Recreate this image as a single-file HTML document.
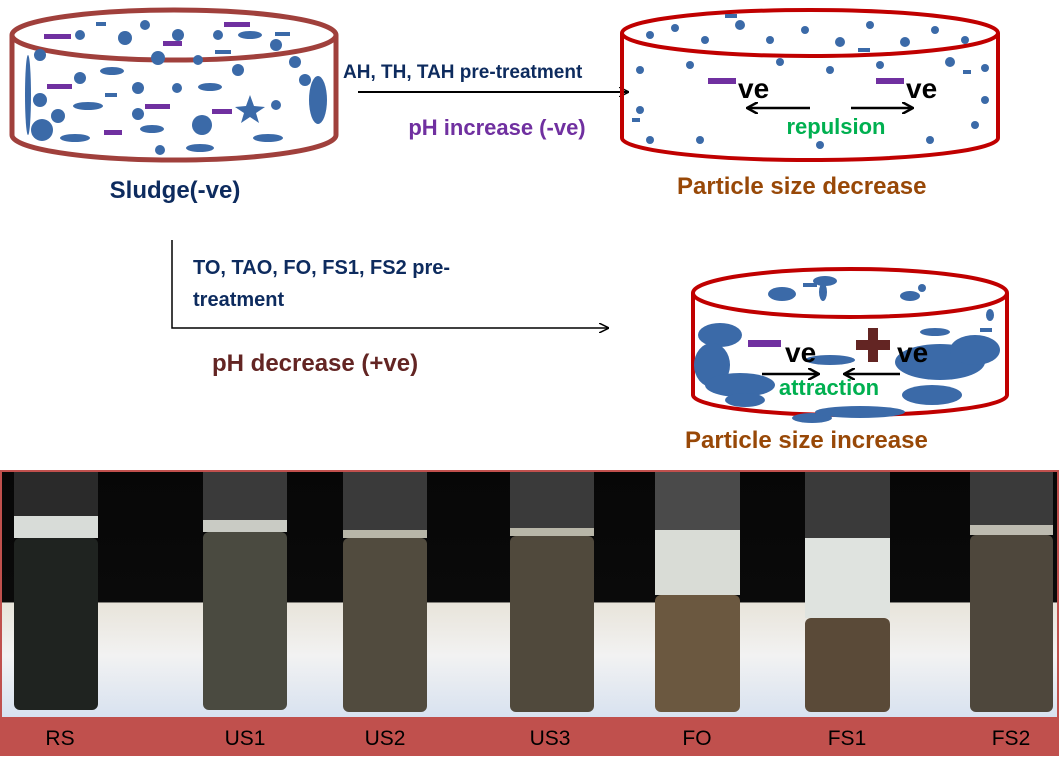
<!DOCTYPE html>
<html><head><meta charset="utf-8"><style>
body{margin:0;background:#fff;width:1059px;height:756px;overflow:hidden}
svg text{font-family:"Liberation Sans",Arial,sans-serif;font-weight:bold}
svg text.n{font-weight:normal}
</style></head><body>
<svg width="1059" height="756" viewBox="0 0 1059 756" xmlns="http://www.w3.org/2000/svg">
<defs>
<marker id="ah" markerWidth="10" markerHeight="10" refX="9" refY="5" orient="auto" markerUnits="userSpaceOnUse"><path d="M0,0 L10,5 L0,10" fill="none" stroke="#000" stroke-width="1.5"/></marker>
<marker id="ah2" markerWidth="12" markerHeight="12" refX="10" refY="6" orient="auto" markerUnits="userSpaceOnUse"><path d="M0,0 L11,6 L0,12" fill="none" stroke="#000" stroke-width="2.5"/></marker>
<linearGradient id="bg" x1="0" y1="0" x2="0" y2="1">
<stop offset="0" stop-color="#070707"/><stop offset="0.53" stop-color="#0a0a0a"/><stop offset="0.535" stop-color="#e8e4da"/><stop offset="0.75" stop-color="#f2f2f2"/><stop offset="1" stop-color="#d8e2f0"/></linearGradient>
</defs>
<!-- left cylinder -->
<g fill="none" stroke="#a0403c" stroke-width="5">
<ellipse cx="174" cy="35" rx="162" ry="25"/>
<path d="M12,35 V135 A162,25 0 0 0 336,135 V35"/>
</g>
<g fill="#3b6aa8">
<circle cx="80" cy="35" r="5"/><circle cx="145" cy="25" r="5"/><circle cx="178" cy="35" r="6"/><circle cx="218" cy="35" r="5"/><circle cx="276" cy="45" r="6"/><circle cx="40" cy="55" r="6"/><circle cx="125" cy="38" r="7"/><circle cx="158" cy="58" r="7"/><circle cx="198" cy="60" r="5"/><circle cx="238" cy="70" r="6"/><circle cx="295" cy="62" r="6"/><circle cx="80" cy="78" r="6"/><circle cx="138" cy="88" r="6"/><circle cx="177" cy="88" r="5"/><circle cx="305" cy="80" r="6"/><circle cx="138" cy="114" r="6"/><circle cx="276" cy="105" r="5"/><circle cx="202" cy="125" r="10"/><circle cx="160" cy="150" r="5"/><circle cx="40" cy="100" r="7"/><circle cx="58" cy="116" r="7"/><circle cx="42" cy="130" r="11"/>
<ellipse cx="112" cy="71" rx="12" ry="4"/><ellipse cx="210" cy="87" rx="12" ry="4"/><ellipse cx="88" cy="106" rx="15" ry="4"/><ellipse cx="152" cy="129" rx="12" ry="4"/><ellipse cx="75" cy="138" rx="15" ry="4"/><ellipse cx="200" cy="148" rx="14" ry="4"/><ellipse cx="268" cy="138" rx="15" ry="4"/><ellipse cx="250" cy="35" rx="12" ry="4"/><ellipse cx="318" cy="100" rx="9" ry="24"/><ellipse cx="28" cy="95" rx="3" ry="40"/>
<polygon points="250,95 254,106 265,107 256,113 259,123 250,117 241,123 244,113 235,107 246,106"/>
</g>
<g fill="#3b6aa8"><rect x="96" y="22" width="10" height="4"/><rect x="275" y="32" width="15" height="4"/><rect x="215" y="50" width="16" height="4"/><rect x="105" y="93" width="12" height="4"/></g>
<g fill="#7030a0"><rect x="44" y="34" width="27" height="5"/><rect x="224" y="22" width="26" height="5"/><rect x="163" y="41" width="19" height="5"/><rect x="47" y="84" width="25" height="5"/><rect x="145" y="104" width="25" height="5"/><rect x="212" y="109" width="20" height="5"/><rect x="104" y="130" width="18" height="5"/></g>
<text x="175" y="198" font-size="24" fill="#0d2b5e" text-anchor="middle">Sludge(-ve)</text>

<text x="343" y="78" font-size="19" fill="#0d2b5e">AH, TH, TAH pre-treatment</text>
<line x1="358" y1="92" x2="628" y2="92" stroke="#000" stroke-width="2" marker-end="url(#ah)"/>
<text x="497" y="135" font-size="22" fill="#7030a0" text-anchor="middle">pH increase (-ve)</text>

<g fill="none" stroke="#c00000" stroke-width="4">
<ellipse cx="810" cy="33" rx="188" ry="23"/>
<path d="M622,33 V138 A188,22 0 0 0 998,138 V33"/>
</g>
<g fill="#3b6aa8">
<circle cx="650" cy="35" r="4"/><circle cx="675" cy="28" r="4"/><circle cx="705" cy="40" r="4"/><circle cx="740" cy="25" r="5"/><circle cx="770" cy="40" r="4"/><circle cx="805" cy="30" r="4"/><circle cx="840" cy="42" r="5"/><circle cx="870" cy="25" r="4"/><circle cx="905" cy="42" r="5"/><circle cx="935" cy="30" r="4"/><circle cx="965" cy="40" r="4"/><circle cx="640" cy="70" r="4"/><circle cx="690" cy="65" r="4"/><circle cx="780" cy="62" r="4"/><circle cx="830" cy="70" r="4"/><circle cx="880" cy="65" r="4"/><circle cx="950" cy="62" r="5"/><circle cx="985" cy="68" r="4"/><circle cx="640" cy="110" r="4"/><circle cx="985" cy="100" r="4"/><circle cx="700" cy="140" r="4"/><circle cx="820" cy="145" r="4"/><circle cx="930" cy="140" r="4"/><circle cx="975" cy="125" r="4"/><circle cx="650" cy="140" r="4"/>
<rect x="725" y="14" width="12" height="4"/><rect x="858" y="48" width="12" height="4"/><rect x="963" y="70" width="8" height="4"/><rect x="632" y="118" width="8" height="4"/>
</g>
<g fill="#7030a0"><rect x="708" y="78" width="28" height="6"/><rect x="876" y="78" width="28" height="6"/></g>
<text x="738" y="98" font-size="28" fill="#000">ve</text>
<text x="906" y="98" font-size="28" fill="#000">ve</text>
<line x1="810" y1="108" x2="748" y2="108" stroke="#000" stroke-width="2.5" marker-end="url(#ah2)"/>
<line x1="851" y1="108" x2="912" y2="108" stroke="#000" stroke-width="2.5" marker-end="url(#ah2)"/>
<text x="836" y="134" font-size="22" fill="#00b050" text-anchor="middle">repulsion</text>
<text x="677" y="194" font-size="24" fill="#984807">Particle size decrease</text>

<path d="M172,240 V328 H608" fill="none" stroke="#000" stroke-width="1.5" marker-end="url(#ah)"/>
<text x="193" y="274" font-size="20" fill="#0d2b5e">TO, TAO, FO, FS1, FS2 pre-</text>
<text x="193" y="306" font-size="20" fill="#0d2b5e">treatment</text>
<text x="212" y="371" font-size="24" fill="#632523">pH decrease (+ve)</text>

<g fill="none" stroke="#c00000" stroke-width="4">
<ellipse cx="850" cy="293" rx="157" ry="24"/>
<path d="M693,293 V395 A157,20 0 0 0 1007,395 V293"/>
</g>
<g fill="#3b6aa8">
<ellipse cx="782" cy="294" rx="14" ry="7"/><ellipse cx="825" cy="281" rx="12" ry="5"/><ellipse cx="910" cy="296" rx="10" ry="5"/><ellipse cx="922" cy="288" rx="4" ry="4"/><ellipse cx="823" cy="292" rx="4" ry="9"/>
<ellipse cx="720" cy="335" rx="22" ry="12"/><ellipse cx="712" cy="365" rx="18" ry="22"/><ellipse cx="740" cy="385" rx="35" ry="12"/><ellipse cx="745" cy="400" rx="20" ry="7"/><ellipse cx="812" cy="418" rx="20" ry="5"/><ellipse cx="860" cy="412" rx="45" ry="6"/><ellipse cx="940" cy="362" rx="45" ry="18"/><ellipse cx="932" cy="395" rx="30" ry="10"/><ellipse cx="975" cy="350" rx="25" ry="15"/><ellipse cx="935" cy="332" rx="15" ry="4"/><ellipse cx="990" cy="315" rx="4" ry="6"/><ellipse cx="830" cy="360" rx="25" ry="5"/>
<rect x="803" y="283" width="14" height="4"/><rect x="980" y="328" width="12" height="4"/>
</g>
<rect x="748" y="340" width="33" height="7" fill="#7030a0"/>
<g fill="#632523"><rect x="856" y="340" width="34" height="10"/><rect x="868" y="328" width="10" height="34"/></g>
<text x="785" y="362" font-size="28" fill="#000">ve</text>
<text x="897" y="362" font-size="28" fill="#000">ve</text>
<line x1="762" y1="374" x2="818" y2="374" stroke="#000" stroke-width="2.5" marker-end="url(#ah2)"/>
<line x1="900" y1="374" x2="845" y2="374" stroke="#000" stroke-width="2.5" marker-end="url(#ah2)"/>
<text x="829" y="395" font-size="22" fill="#00b050" text-anchor="middle">attraction</text>
<text x="685" y="448" font-size="24" fill="#984807">Particle size increase</text>

<rect x="0" y="470" width="1059" height="286" fill="#c0504d"/>
<rect x="2" y="472" width="1055" height="245" fill="url(#bg)"/>
<g>
<rect x="14" y="472" width="84" height="64" fill="#2a2a2a"/><rect x="14" y="516" width="84" height="22" fill="#d8dcd8"/><rect x="14" y="538" width="84" height="172" rx="6" fill="#1f2320"/>
<rect x="203" y="472" width="84" height="50" fill="#3a3a3a"/><rect x="203" y="520" width="84" height="12" fill="#c9cbc4"/><rect x="203" y="532" width="84" height="178" rx="6" fill="#4a4a40"/>
<rect x="343" y="472" width="84" height="60" fill="#3a3a3a"/><rect x="343" y="530" width="84" height="8" fill="#b8b6a8"/><rect x="343" y="538" width="84" height="174" rx="6" fill="#514b3e"/>
<rect x="510" y="472" width="84" height="58" fill="#3a3a3a"/><rect x="510" y="528" width="84" height="8" fill="#b8b6a8"/><rect x="510" y="536" width="84" height="176" rx="6" fill="#50493c"/>
<rect x="655" y="472" width="85" height="60" fill="#4a4a4a"/><rect x="655" y="530" width="85" height="65" fill="#d9dcd6"/><rect x="655" y="595" width="85" height="117" rx="6" fill="#6b5840"/>
<rect x="805" y="472" width="85" height="68" fill="#3a3a3a"/><rect x="805" y="538" width="85" height="80" fill="#dfe3df"/><rect x="805" y="618" width="85" height="94" rx="6" fill="#5a4a38"/>
<rect x="970" y="472" width="83" height="55" fill="#3a3a3a"/><rect x="970" y="525" width="83" height="10" fill="#bdbbb0"/><rect x="970" y="535" width="83" height="177" rx="6" fill="#4e473c"/>
</g>
<g font-size="21" fill="#000" text-anchor="middle">
<text class="n" x="60" y="745">RS</text><text class="n" x="245" y="745">US1</text><text class="n" x="385" y="745">US2</text><text class="n" x="550" y="745">US3</text><text class="n" x="697" y="745">FO</text><text class="n" x="847" y="745">FS1</text><text class="n" x="1011" y="745">FS2</text>
</g>
</svg>
</body></html>
